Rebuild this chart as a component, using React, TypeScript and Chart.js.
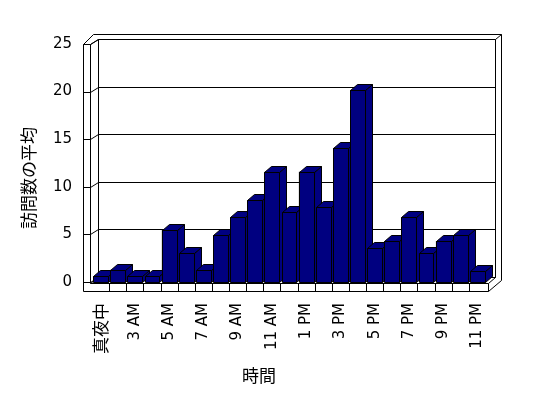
import { useEffect, useRef } from 'react';
import { Chart, registerables } from 'chart.js';

Chart.register(...registerables);

// ---- data ----
const hourLabels = [
  '真夜中', '1 AM', '3 AM', '4 AM', '5 AM', '6 AM', '7 AM', '8 AM', '9 AM', '10 AM', '11 AM', '正午',
  '1 PM', '2 PM', '3 PM', '4 PM', '5 PM', '6 PM', '7 PM', '8 PM', '9 PM', '10 PM', '11 PM',
];
const visitAverages = [
  0.6, 1.3, 0.6, 0.6, 5.5, 3.0, 1.3, 4.9, 6.8, 8.6, 11.6, 7.4,
  11.6, 7.9, 14.1, 20.2, 3.6, 4.3, 6.8, 3.0, 4.3, 4.9, 1.2,
];
const yTickValues = [0, 5, 10, 15, 20, 25];
const yAxisTitle = '訪問数の平均';
const xAxisTitle = '時間';

const LATIN = "'DejaVu Sans', 'Noto Sans CJK JP', sans-serif";
const CJK = "'Noto Sans CJK JP', sans-serif";
const BAR_FILL = '#000080';
const BAR_DX = 7;
const BAR_DY = -6;

function seg(ctx: CanvasRenderingContext2D, x1: number, y1: number, x2: number, y2: number) {
  const a = Math.round(x1) + 0.5, b = Math.round(y1) + 0.5, c = Math.round(x2) + 0.5, d = Math.round(y2) + 0.5;
  ctx.beginPath();
  ctx.moveTo(a, b);
  ctx.lineTo(c, d);
  ctx.stroke();
}

function poly(ctx: CanvasRenderingContext2D, pts: number[][]) {
  ctx.beginPath();
  ctx.moveTo(pts[0][0], pts[0][1]);
  for (let i = 1; i < pts.length; i++) ctx.lineTo(pts[i][0], pts[i][1]);
  ctx.closePath();
  ctx.fill();
  ctx.stroke();
}

const excel3d = {
  id: 'excel3d',
  beforeDatasetsDraw(chart: any) {
    const ctx: CanvasRenderingContext2D = chart.ctx;
    const { left, right, top, bottom } = chart.chartArea;
    const xs = chart.scales.x;
    const ys = chart.scales.y;
    const oL = left - 9;
    const fl = left - 2;
    const fr = right + 2;
    const bl = fl + 8;
    const br = fr + 7;
    const backTop = top - 5;
    const outerTop = top - 10;
    const outerRight = br + 6;
    const floorTop = bottom + 1;
    const floorBot = bottom + 9;
    const backFloor = bottom - 5;
    ctx.save();
    ctx.strokeStyle = '#000';
    ctx.lineWidth = 1;
    // left wall
    seg(ctx, oL, top, oL, floorBot);
    seg(ctx, fl, top, fl, floorTop);
    seg(ctx, oL, top, fl, top);
    seg(ctx, oL, top, oL + 10, outerTop);
    seg(ctx, fl, top, bl, backTop);
    // back wall
    seg(ctx, oL + 10, outerTop, outerRight, outerTop);
    seg(ctx, bl, backTop, br, backTop);
    seg(ctx, br, backTop, outerRight, outerTop);
    seg(ctx, bl, backTop, bl, backFloor);
    seg(ctx, br, backTop, br, backFloor);
    seg(ctx, outerRight, outerTop, outerRight, backFloor + 3);
    // floor
    seg(ctx, br, backFloor, fr, floorTop);
    seg(ctx, outerRight, backFloor + 3, fr, floorBot);
    seg(ctx, fl, floorTop, fr, floorTop);
    seg(ctx, oL, floorBot, fr, floorBot);
    seg(ctx, fr, floorTop, fr, floorBot);
    seg(ctx, fl, floorTop, bl, backFloor);
    seg(ctx, bl, backFloor, br, backFloor);
    for (let i = 1; i < hourLabels.length; i++) {
      const xb = (xs.getPixelForValue(i - 1) + xs.getPixelForValue(i)) / 2;
      seg(ctx, xb, floorTop, xb, floorBot);
    }
    // gridlines
    yTickValues.forEach((v) => {
      const yv = ys.getPixelForValue(v);
      seg(ctx, oL, yv, fl, yv);
      seg(ctx, fl, yv, bl, yv - 5);
      seg(ctx, bl, yv - 5, br, yv - 5);
    });
    ctx.restore();
  },
  afterDatasetsDraw(chart: any) {
    const ctx: CanvasRenderingContext2D = chart.ctx;
    const meta = chart.getDatasetMeta(0);
    ctx.save();
    ctx.fillStyle = BAR_FILL;
    ctx.strokeStyle = '#000';
    ctx.lineWidth = 1;
    meta.data.forEach((el: any) => {
      const { x, y, base, width } = el.getProps(['x', 'y', 'base', 'width'], true);
      const l = Math.round(x - width / 2) + 0.5;
      const r = Math.round(x + width / 2) + 0.5;
      const t = Math.round(y) + 0.5;
      const b = Math.round(base) + 0.5;
      poly(ctx, [[r, t], [r + BAR_DX, t + BAR_DY], [r + BAR_DX, b + BAR_DY], [r, b]]);
      poly(ctx, [[l, t], [l + BAR_DX, t + BAR_DY], [r + BAR_DX, t + BAR_DY], [r, t]]);
      poly(ctx, [[l, t], [r, t], [r, b], [l, b]]);
    });
    ctx.restore();
  },
  afterDraw(chart: any) {
    const ctx: CanvasRenderingContext2D = chart.ctx;
    ctx.save();
    ctx.fillStyle = '#000';
    ctx.font = `17px ${CJK}`;
    ctx.textAlign = 'center';
    ctx.textBaseline = 'middle';
    ctx.fillText(xAxisTitle, 259, 376);
    ctx.translate(29, 178);
    ctx.rotate(-Math.PI / 2);
    ctx.fillText(yAxisTitle, 0, 0);
    ctx.restore();
  },
};

export default function App() {
  const canvasRef = useRef<HTMLCanvasElement | null>(null);

  useEffect(() => {
    if (!canvasRef.current) return;
    Chart.defaults.color = '#000';
    const chart = new Chart(canvasRef.current, {
      type: 'bar',
      data: {
        labels: hourLabels,
        datasets: [
          {
            label: yAxisTitle,
            data: visitAverages,
            backgroundColor: BAR_FILL,
            borderColor: '#000',
            borderWidth: 1,
            barPercentage: 0.87,
            categoryPercentage: 1,
          },
        ],
      },
      options: {
        responsive: false,
        animation: false,
        events: [],
        layout: { padding: { left: 0, top: 44, right: 62, bottom: 0 } },
        plugins: {
          legend: { display: false },
          tooltip: { enabled: false },
          title: { display: false },
        },
        scales: {
          x: {
            grid: { display: false, drawTicks: false },
            border: { display: false },
            ticks: {
              autoSkip: false,
              maxRotation: 90,
              minRotation: 90,
              padding: 21,
              color: '#000',
              font: (c: any) => (c.index === 0 ? { family: CJK, size: 17 } : { family: LATIN, size: 15 }),
              callback: (_v: any, i: number) => (i % 2 === 0 ? hourLabels[i] : ''),
            },
            afterFit: (s: any) => {
              s.height = 116;
            },
          },
          y: {
            min: 0,
            max: 25,
            grid: { display: false, drawTicks: false },
            border: { display: false },
            ticks: {
              stepSize: 5,
              padding: 20,
              color: '#000',
              font: { family: LATIN, size: 15 },
            },
            afterFit: (s: any) => {
              s.width = 92;
            },
          },
        },
      },
      plugins: [excel3d],
    });
    return () => chart.destroy();
  }, []);

  return (
    <div style={{ position: 'fixed', left: 0, top: 0, width: 548, height: 398, background: '#fff' }}>
      <canvas ref={canvasRef} width={548} height={398} />
    </div>
  );
}
